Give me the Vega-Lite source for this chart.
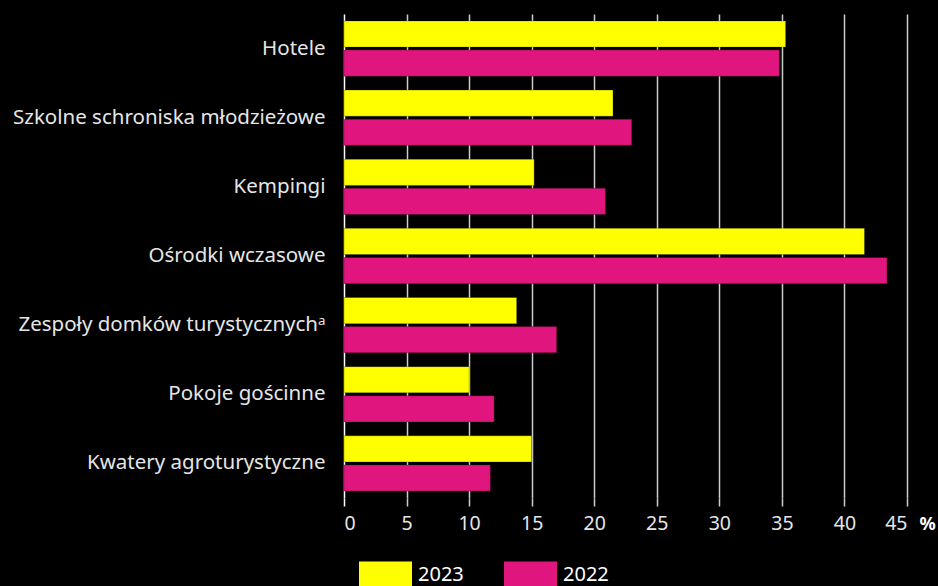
{
  "$schema": "https://vega.github.io/schema/vega-lite/v6.json",
  "width": 563,
  "height": 484,
  "autosize": {"type": "none"},
  "padding": {"left": 344, "top": 14, "right": 31, "bottom": 88},
  "background": "#000000",
  "data": {
    "values": [
      {"category": "Hotele", "year": "2023", "value": 35.3},
      {"category": "Hotele", "year": "2022", "value": 34.8},
      {"category": "Szkolne schroniska młodzieżowe", "year": "2023", "value": 21.5},
      {"category": "Szkolne schroniska młodzieżowe", "year": "2022", "value": 23.0},
      {"category": "Kempingi", "year": "2023", "value": 15.2},
      {"category": "Kempingi", "year": "2022", "value": 20.9},
      {"category": "Ośrodki wczasowe", "year": "2023", "value": 41.6},
      {"category": "Ośrodki wczasowe", "year": "2022", "value": 43.4},
      {"category": "Zespoły domków turystycznychᵃ", "year": "2023", "value": 13.8},
      {"category": "Zespoły domków turystycznychᵃ", "year": "2022", "value": 17.0},
      {"category": "Pokoje gościnne", "year": "2023", "value": 10.0},
      {"category": "Pokoje gościnne", "year": "2022", "value": 12.0},
      {"category": "Kwatery agroturystyczne", "year": "2023", "value": 15.0},
      {"category": "Kwatery agroturystyczne", "year": "2022", "value": 11.7}
    ]
  },
  "mark": {"type": "bar", "stroke": "#000000", "strokeWidth": 0.6, "strokeOpacity": 0.4},
  "encoding": {
    "y": {
      "field": "category",
      "type": "nominal",
      "sort": ["Hotele", "Szkolne schroniska młodzieżowe", "Kempingi", "Ośrodki wczasowe", "Zespoły domków turystycznychᵃ", "Pokoje gościnne", "Kwatery agroturystyczne"],
      "scale": {"paddingInner": 0.2, "paddingOuter": 0.1},
      "axis": {
        "title": null,
        "ticks": false,
        "domain": false,
        "labelColor": "#e6e6e6",
        "labelFont": "Noto Sans",
        "labelFontSize": 20.5,
        "labelPadding": 19,
        "labelLimit": 0
      }
    },
    "yOffset": {
      "field": "year",
      "type": "nominal",
      "sort": ["2023", "2022"],
      "scale": {"paddingInner": 0.1}
    },
    "x": {
      "field": "value",
      "type": "quantitative",
      "scale": {"domain": [0, 45], "nice": false},
      "axis": {
        "values": [0, 5, 10, 15, 20, 25, 30, 35, 40, 45],
        "grid": true,
        "gridColor": {"condition": {"test": "datum.value === 0", "value": "#ffffff"}, "value": "#cccccc"},
        "gridWidth": 1.5,
        "tickColor": {"condition": {"test": "datum.value === 0", "value": "#ffffff"}, "value": "#cccccc"},
        "tickWidth": 1.5,
        "tickSize": 8,
        "domain": false,
        "labelColor": "#e6e6e6",
        "labelFont": "Noto Sans",
        "labelFontSize": 19.5,
        "labelPadding": 8,
        "title": "%",
        "titleColor": "#ffffff",
        "titleFont": "Noto Sans",
        "titleFontSize": 18,
        "titleFontWeight": "bold",
        "titleAlign": "left",
        "titleBaseline": "alphabetic",
        "titleX": 575,
        "titleY": 31
      }
    },
    "color": {
      "field": "year",
      "type": "nominal",
      "scale": {"domain": ["2023", "2022"], "range": ["#FFFF00", "#E0167E"]},
      "legend": {
        "title": null,
        "orient": "none",
        "legendX": 15,
        "legendY": 534,
        "direction": "horizontal",
        "symbolType": "M-1,-0.5H1V0.5H-1Z",
        "symbolSize": 2809,
        "symbolStrokeWidth": 0,
        "symbolOpacity": 1,
        "labelFont": "Noto Sans",
        "labelFontSize": 20,
        "labelColor": "#ffffff",
        "labelOffset": 6,
        "columnPadding": 40
      }
    }
  },
  "config": {"view": {"stroke": null}}
}
